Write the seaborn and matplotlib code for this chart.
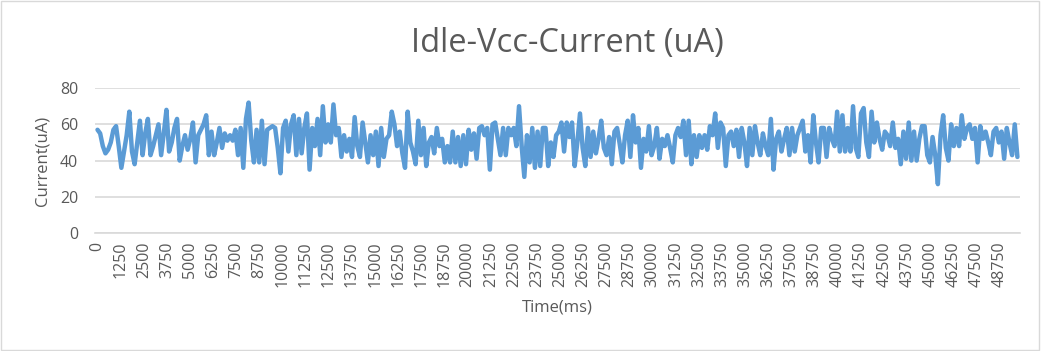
import numpy as np
import pandas as pd
import seaborn as sns
import matplotlib.pyplot as plt
from matplotlib.patches import Rectangle

# current readings (uA) left to right
seg1 = [57, 55, 48, 44, 46, 50, 57, 59, 48, 36, 45, 54, 67, 45, 38, 50, 62, 43, 55, 63,
        43, 48, 54, 60, 43, 55, 68, 45, 50, 58, 63, 40, 48, 54, 46, 52, 61, 39, 54, 57,
        60, 65, 43, 56, 43, 50, 58, 47, 55, 51, 54, 51, 57, 43, 58, 36, 63, 72, 51, 39,
        57, 39, 62, 38, 57, 58]
seg2 = [59, 58, 47, 33, 58, 62, 45, 60, 65, 43, 63, 44, 58, 66, 35, 58, 48, 63, 43, 70,
        50, 60, 50, 71, 54, 58, 42, 54, 45, 52, 42, 64, 48, 42, 61, 50, 39, 54, 43, 56,
        37, 58, 42, 52, 54, 67, 60, 48, 56, 44, 36, 67, 50, 45, 38, 62, 43, 58, 37, 50,
        53, 44, 58, 48, 52, 39]
seg3 = [48, 39, 56, 39, 53, 37, 54, 38, 57, 46, 55, 41, 58, 59, 54, 58, 35, 60, 61, 52,
        43, 58, 43, 58, 54, 58, 48, 70, 48, 31, 54, 39, 58, 36, 56, 37, 58, 58, 37, 50,
        42, 54, 56, 61, 45, 61, 53, 61, 37, 50, 66, 47, 37, 58, 42, 56, 44, 52, 62, 47,
        43, 53, 38, 56, 58, 49, 39, 54, 62, 42]
seg4 = [65, 50, 58, 36, 52, 45, 59, 43, 48, 58, 41, 52, 48, 54, 47, 39, 54, 58, 53, 62,
        43, 62, 38, 54, 42, 54, 47, 54, 46, 59, 54, 66, 47, 61, 58, 37, 54, 56, 48, 57,
        42, 58, 50, 37, 58, 43, 59, 50, 43, 55, 48, 43, 63, 35, 52, 56, 45, 52, 58, 43,
        58, 45, 54, 58, 62, 45, 54, 39, 65, 50, 39, 58]
seg5 = [58, 42, 58, 52, 48, 67, 45, 65, 45, 58, 45, 70, 47, 42, 66, 69, 50, 42, 67, 50,
        61, 52, 46, 56, 54, 48, 61, 47, 52, 38, 56, 41, 61, 40, 56, 40, 52, 59, 59, 43,
        39, 53, 43, 27, 54, 65, 47, 40, 60, 48, 58, 48, 65, 52, 58, 60, 52, 58, 39, 59,
        52, 56, 50, 43, 56, 58, 50, 56, 41, 58, 50, 43, 60, 42]
current = seg1 + seg2 + seg3 + seg4 + seg5

# sampling grid over the recorded window (ms)
time_ms = np.linspace(0, 49700, len(current))
tick_vals = list(range(0, 50000, 1250))
y_ticks = [0, 20, 40, 60, 80]

df = pd.DataFrame({"Time(ms)": time_ms, "Current(uA)": current})

sns.set_style("white")
plt.rcParams['font.family'] = ['Open Sans', 'DejaVu Sans']
txt = "#595959"

fig = plt.figure(figsize=(10.41, 3.51), dpi=100)
ax = fig.add_axes([0.091, 0.336, 0.889, 0.413])

sns.lineplot(data=df, x="Time(ms)", y="Current(uA)", ax=ax,
             color="#5B9BD5", linewidth=3.2, zorder=3)

ax.set_ylim(0, 80)
ax.set_xlim(-150, 49850)
ax.set_yticks(y_ticks)
ax.set_xticks(tick_vals)
ax.set_xticklabels([str(t) for t in tick_vals], rotation=90)
ax.tick_params(axis="x", length=0, labelsize=11.5, colors=txt, pad=6)
ax.tick_params(axis="y", length=0, labelsize=11.5, colors=txt, pad=12)
ax.grid(axis="y", color="#D9D9D9", linewidth=1.2)
ax.set_axisbelow(True)
for s in ["top", "right", "left"]:
    ax.spines[s].set_visible(False)
ax.spines["bottom"].set_color("#D9D9D9")
ax.spines["bottom"].set_linewidth(1.2)

ax.set_xlabel("Time(ms)", fontsize=12, color=txt, labelpad=9)
ax.set_ylabel("Current(uA)", fontsize=12, color=txt, labelpad=7)
fig.text(0.545, 0.875, "Idle-Vcc-Current (uA)", fontsize=23.5, color=txt,
         ha="center", va="center")

# chart border
fig.patches.append(Rectangle((0.001, 0.002), 0.997, 0.995, transform=fig.transFigure,
                             fill=False, edgecolor="#D9D9D9", linewidth=1))

fig.savefig("out.png", dpi=100)
